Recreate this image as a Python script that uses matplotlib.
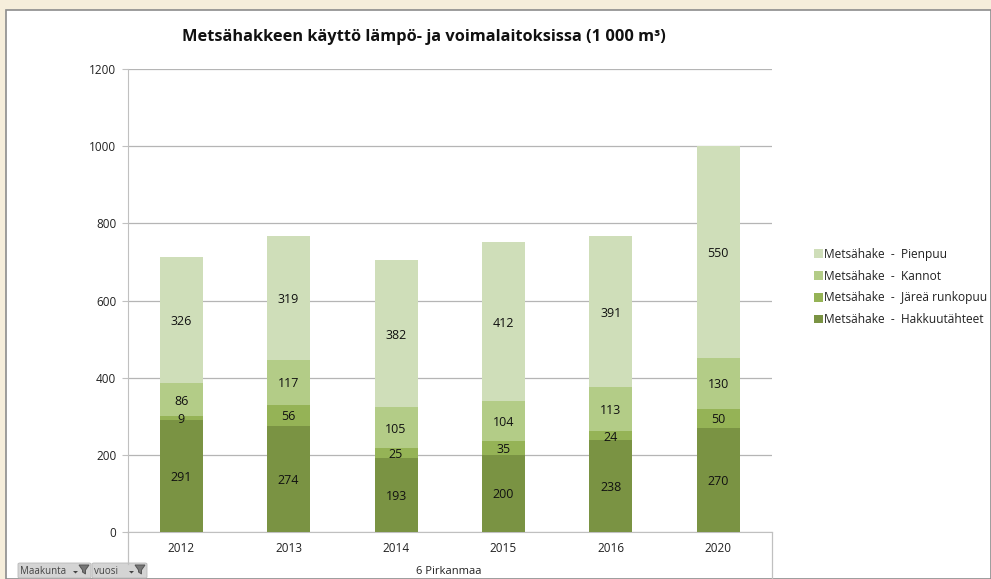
import matplotlib

matplotlib.use("Agg")

import matplotlib.pyplot as plt
from matplotlib.patches import FancyBboxPatch, Polygon, Rectangle

W, H = 991, 579

years = ["2012", "2013", "2014", "2015", "2016", "2020"]
hakkuutahteet = [291, 274, 193, 200, 238, 270]
jarea_runkopuu = [9, 56, 25, 35, 24, 50]
kannot = [86, 117, 105, 104, 113, 130]
pienpuu = [326, 319, 382, 412, 391, 550]

series_names = [
    "Metsähake  -  Hakkuutähteet",
    "Metsähake  -  Järeä runkopuu",
    "Metsähake  -  Kannot",
    "Metsähake  -  Pienpuu",
]
colors = ["#7a9343", "#95b356", "#b3cc87", "#cfdeb9"]
yticks = [0, 200, 400, 600, 800, 1000, 1200]

plt.rcParams["font.family"] = ["Open Sans", "DejaVu Sans"]


def px_x(px):
    return px / W


def px_y(py):
    return 1 - py / H


fig = plt.figure(figsize=(W / 100, H / 100), dpi=100, facecolor="#f6eedb")

# white chart sheet on the cream background, behind the axes
fig.add_artist(Rectangle((px_x(6), 0), 1 - px_x(6), px_y(10), transform=fig.transFigure,
                         facecolor="white", edgecolor="#8c8c8c", linewidth=1.2, zorder=-1))

ax = fig.add_axes([px_x(127.5), px_y(532), px_x(772 - 127.5), (532 - 69) / H])
ax.patch.set_alpha(0)

bottom = [0] * len(years)
x = list(range(len(years)))
for vals, col, name in zip([hakkuutahteet, jarea_runkopuu, kannot, pienpuu], colors, series_names):
    ax.bar(x, vals, width=0.4, bottom=bottom, color=col, label=name, zorder=3)
    for xi, b, v in zip(x, bottom, vals):
        ax.text(xi, b + v / 2, str(v), ha="center", va="center_baseline", fontsize=9,
                color="#111111", zorder=4)
    bottom = [b + v for b, v in zip(bottom, vals)]

ax.set_xlim(-0.5, 5.5)
ax.set_ylim(0, 1200)
ax.set_yticks(yticks)
ax.set_xticks(x, years)
ax.yaxis.grid(True, color="#b5b5b5", linewidth=0.9, zorder=0)
ax.set_axisbelow(True)
ax.tick_params(axis="y", length=4, color="#c0c0c0", labelsize=8.5, labelcolor="#222222", pad=4)
ax.tick_params(axis="x", length=0, labelsize=8.5, labelcolor="#222222", pad=7)
for side in ("top", "right"):
    ax.spines[side].set_visible(False)
for side in ("left", "bottom"):
    ax.spines[side].set_color("#c0c0c0")

# multi-level category axis below the years
for px, end in ((127.5, 564), (772, 579)):
    fig.add_artist(plt.Line2D([px_x(px), px_x(px)], [px_y(532), px_y(end)],
                              transform=fig.transFigure, color="#c0c0c0", linewidth=0.9))
fig.text(px_x(449), px_y(571), "6 Pirkanmaa", ha="center", va="center", fontsize=8, color="#222222")

fig.text(px_x(424), px_y(37), "Metsähakkeen käyttö lämpö- ja voimalaitoksissa (1 000 m³)",
         ha="center", va="center", fontsize=11.8, fontweight="bold", color="#111111")

handles, labels = ax.get_legend_handles_labels()
fig.legend(handles[::-1], labels[::-1], loc="center left",
           bbox_to_anchor=(px_x(814), px_y(287)), frameon=False, fontsize=8.6,
           handlelength=0.75, handleheight=0.75, handletextpad=0.1, labelspacing=0.74,
           borderpad=0, borderaxespad=0, labelcolor="#222222")

# pivot filter buttons with dropdown arrow and funnel icon
for px, pw, text in [(18, 73, "Maakunta"), (92, 55, "vuosi")]:
    fig.add_artist(FancyBboxPatch((px_x(px), px_y(578)), pw / W, 15 / H,
                                  boxstyle="round,pad=0,rounding_size=0.002",
                                  transform=fig.transFigure, facecolor="#d4d4d4",
                                  edgecolor="#b8b8b8", linewidth=0.6))
    fig.text(px_x(px + 2), px_y(571.5), text, ha="left", va="center", fontsize=7, color="#444444")
    right = px + pw
    fig.add_artist(Polygon([(px_x(right - 18), px_y(571)), (px_x(right - 13), px_y(571)),
                            (px_x(right - 15.5), px_y(573.5))],
                           transform=fig.transFigure, facecolor="#444444", edgecolor="none"))
    fig.add_artist(Polygon([(px_x(right - 12), px_y(565)), (px_x(right - 2), px_y(565)),
                            (px_x(right - 5.5), px_y(570)), (px_x(right - 5.5), px_y(574)),
                            (px_x(right - 8.5), px_y(572)), (px_x(right - 8.5), px_y(570))],
                           transform=fig.transFigure, facecolor="#777777",
                           edgecolor="#555555", linewidth=0.7))

fig.savefig("out.png", dpi=100, facecolor=fig.get_facecolor())
